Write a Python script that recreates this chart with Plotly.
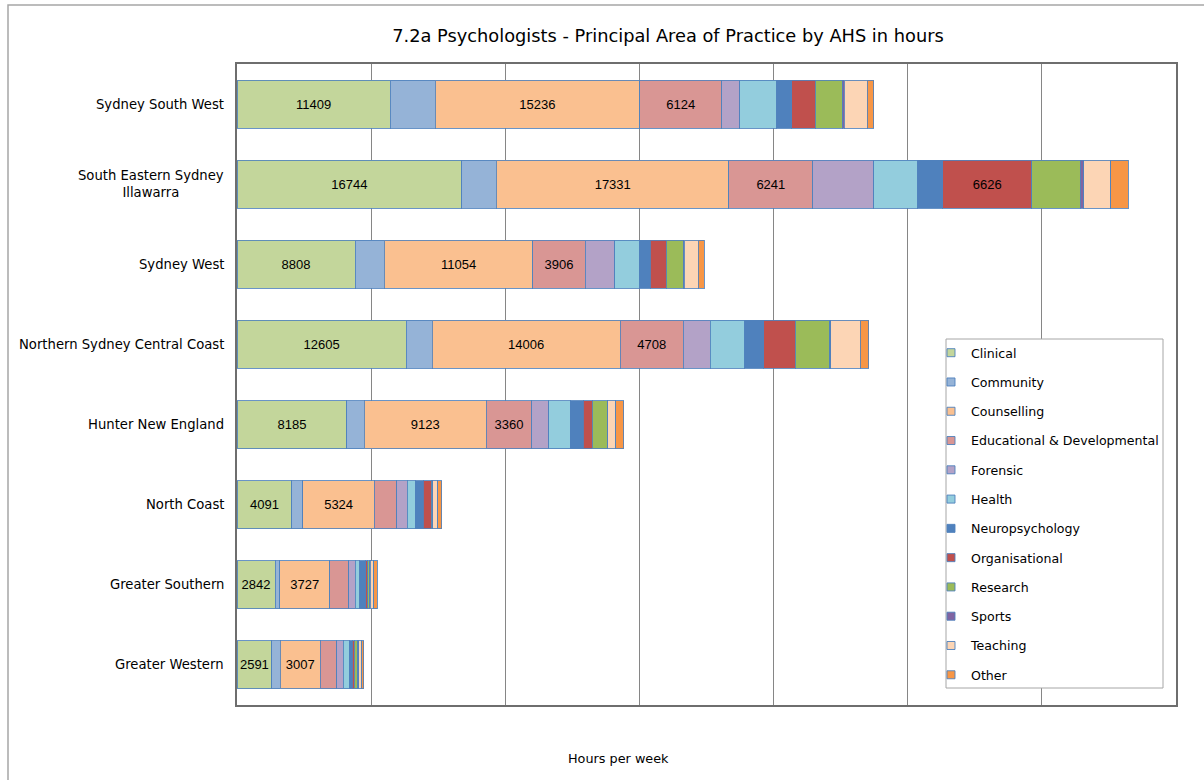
import plotly.graph_objects as go

categories = ["Sydney South West", "South Eastern Sydney<br>Illawarra", "Sydney West",
              "Northern Sydney Central Coast", "Hunter New England", "North Coast",
              "Greater Southern", "Greater Western"]

series_names = ["Clinical", "Community", "Counselling", "Educational & Developmental",
                "Forensic", "Health", "Neuropsychology", "Organisational", "Research",
                "Sports", "Teaching", "Other"]

clinical = [11409, 16744, 8808, 12605, 8185, 4091, 2842, 2591]
community = [3371, 2600, 2183, 1949, 1290, 821, 350, 622]
counselling = [15236, 17331, 11054, 14006, 9123, 5324, 3727, 3007]
educational = [6124, 6241, 3906, 4708, 3360, 1673, 1400, 1211]
forensic = [1356, 4544, 2208, 2012, 1264, 769, 496, 496]
health = [2734, 3279, 1811, 2577, 1613, 595, 347, 422]
neuropsychology = [1132, 1879, 844, 1414, 968, 596, 420, 250]
organisational = [1729, 6626, 1191, 2357, 670, 620, 170, 150]
research = [2042, 3628, 1265, 2546, 1117, 80, 150, 250]
sports = [120, 250, 60, 100, 50, 40, 30, 60]
teaching = [1729, 2011, 1042, 2200, 595, 350, 270, 250]
other = [471, 1311, 471, 629, 595, 300, 250, 150]

# which values carry a data label
labelled = {
    "Clinical": [True] * 8,
    "Counselling": [True] * 8,
    "Educational & Developmental": [True, True, True, True, True, False, False, False],
    "Organisational": [False, True, False, False, False, False, False, False],
}

values = [clinical, community, counselling, educational, forensic, health,
          neuropsychology, organisational, research, sports, teaching, other]

colors = ["#C3D69B", "#95B3D7", "#FAC090", "#D99694", "#B3A2C7", "#93CDDD",
          "#4F81BD", "#C0504D", "#9BBB59", "#8064A2", "#FCD5B5", "#F79646"]

NUMFONT = "Liberation Sans, Arial, sans-serif"
FONT = "DejaVu Sans, Liberation Sans, sans-serif"
W, H = 1204, 780
L, R, T, B = 237, 28, 64, 75
PW, PH = W - L - R, H - T - B


def px_x(p):
    return (p - L) / PW


def px_y(p):
    return (H - B - p) / PH


fig = go.Figure()
for name, vals, col in zip(series_names, values, colors):
    flags = labelled.get(name, [False] * len(vals))
    txt = [str(v) if f else "" for v, f in zip(vals, flags)]
    fig.add_trace(go.Bar(
        y=categories, x=vals, orientation="h", name=name,
        marker=dict(color=col, line=dict(color="rgba(79,129,189,0.85)", width=1)),
        text=txt, textposition="inside", insidetextanchor="middle", textangle=0,
        textfont=dict(family=NUMFONT, size=13, color="black"),
        constraintext="none", showlegend=False, hoverinfo="x+name",
    ))

# legend entries (small squares)
for i, (name, col) in enumerate(zip(series_names, colors)):
    fig.add_trace(go.Scatter(
        x=[None], y=[None], mode="markers", name=name, legendgroup=f"g{i}",
        marker=dict(symbol="square", size=8, color=col,
                    line=dict(color="rgba(79,129,189,0.9)", width=1)),
        showlegend=True,
    ))

shapes = [
    # outer chart frame
    dict(type="rect", xref="paper", yref="paper",
         x0=px_x(8), x1=px_x(1215), y0=px_y(795), y1=px_y(5),
         line=dict(color="#A6A6A6", width=1.5), fillcolor="rgba(0,0,0,0)", layer="below"),
    # legend box
    dict(type="rect", xref="paper", yref="paper",
         x0=px_x(946), x1=px_x(1163), y0=px_y(688), y1=px_y(339),
         line=dict(color="#A6A6A6", width=1), fillcolor="white", layer="above"),
]

annotations = [
    dict(text="Hours per week", xref="paper", yref="paper", x=px_x(618), y=px_y(759),
         xanchor="center", yanchor="middle", showarrow=False,
         font=dict(family=FONT, size=12.8, color="black")),
]
for c in categories:
    annotations.append(dict(text=c, xref="paper", yref="y", x=px_x(226), y=c,
                            xanchor="right", yanchor="middle", align="center",
                            showarrow=False, font=dict(family=FONT, size=13.2, color="black")))

fig.update_layout(
    width=W, height=H, barmode="stack", bargap=0.4,
    margin=dict(l=L, r=R, t=T, b=B, autoexpand=False),
    paper_bgcolor="white", plot_bgcolor="white",
    title=dict(text="7.2a Psychologists - Principal Area of Practice by AHS in hours",
               x=px_x(668), xref="paper", xanchor="center",
               y=1 - 36 / H, yref="container", yanchor="middle",
               font=dict(family=FONT, size=17.8, color="black")),
    xaxis=dict(range=[0, 70000], dtick=10000, showgrid=True, gridcolor="#868686", gridwidth=1,
               showticklabels=False, ticks="", zeroline=False,
               showline=True, linecolor="#6E6E6E", linewidth=1.5, mirror=True),
    yaxis=dict(categoryorder="array", categoryarray=categories, autorange="reversed",
               showticklabels=False, ticks="", showgrid=False, zeroline=False,
               showline=True, linecolor="#6E6E6E", linewidth=1.5, mirror=True),
    legend=dict(x=px_x(931), y=px_y(338), xanchor="left", yanchor="top",
                bgcolor="rgba(0,0,0,0)", borderwidth=0, traceorder="grouped",
                tracegroupgap=9.9, font=dict(family=FONT, size=12.6, color="black")),
    shapes=shapes, annotations=annotations,
)

fig.write_html("out.html", config={"displayModeBar": False},
               post_script="document.body.style.margin='0';")
